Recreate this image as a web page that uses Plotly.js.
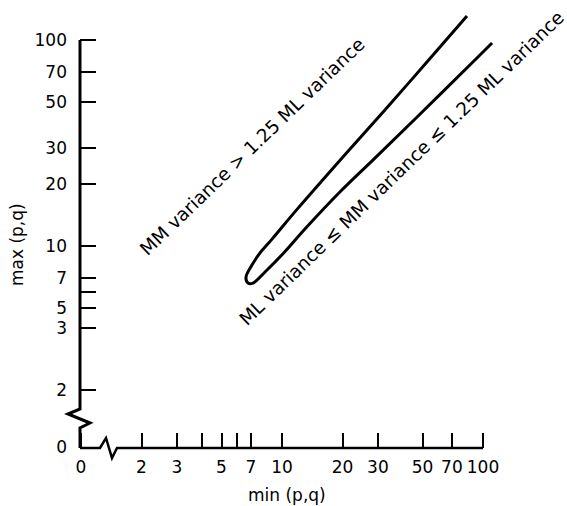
<!DOCTYPE html>
<html>
<head>
<meta charset="utf-8">
<script src="https://cdn.plot.ly/plotly-3.0.1.min.js"></script>
<style>html,body{margin:0;padding:0;background:#fff;}#chart{width:567px;height:506px;}</style>
</head>
<body>
<div id="chart"></div>
<script>
// Boundary curve: upper branch (top -> tip), then lower branch (tip -> top)
var upperMin = [83.2, 52.6, 32.5, 21.8, 11.9, 8.92, 7.77, 7.09, 6.62];
var upperMax = [130.8, 78.2, 45.7, 29.6, 15.1, 10.8, 9.25, 8.09, 7.07];
var tipMin = [6.77];
var tipMax = [6.61];
var lowerMin = [7.17, 8.23, 10.3, 13.0, 19.4, 28.4, 47.0, 93.3, 110.9];
var lowerMax = [6.61, 7.48, 9.35, 12.09, 18.29, 26.2, 42.3, 81.8, 96.7];

// Tick values and labels
var xTickVals = [1, 2, 3, 4, 5, 6, 7, 10, 20, 30, 50, 70, 100];
var xTickText = ['0', '2', '3', '', '5', '', '7', '10', '20', '30', '50', '70', '100'];
var yTickVals = [1.0575, 2, 4, 5, 6, 7, 10, 20, 30, 50, 70, 100];
var yTickText = ['0', '2', '3', '5', '', '7', '10', '20', '30', '50', '70', '100'];

var labelUpper = 'MM variance > 1.25 ML variance';
var labelLower = 'ML variance \u2264 MM variance \u2264 1.25 ML variance';
var xTitle = 'min (p,q)';
var yTitle = 'max (p,q)';

var FONT = 'DejaVu Sans, sans-serif';

var trace = {
  x: upperMin.concat(tipMin, lowerMin),
  y: upperMax.concat(tipMax, lowerMax),
  type: 'scatter',
  mode: 'lines',
  line: {color: '#000', width: 3, shape: 'spline', smoothing: 1},
  hoverinfo: 'skip',
  showlegend: false
};

// pixel -> paper helpers for decorations (plot area: x 80..560, y 6..448)
function px(v) { return (v - 80) / 480; }
function py(v) { return (448 - v) / 442; }
function path(pts) {
  return pts.map(function (p, i) { return (i ? 'L ' : 'M ') + px(p[0]) + ' ' + py(p[1]); }).join(' ');
}

var yAxisPath = path([[80, 448], [80, 428], [90, 423], [68, 414], [80, 409], [80, 40]]);
var xAxisPath = path([[80, 448], [100, 448], [106, 438], [112, 458], [117, 448], [483, 448]]);

var layout = {
  width: 567,
  height: 506,
  margin: {l: 80, r: 7, t: 6, b: 58},
  paper_bgcolor: '#fff',
  plot_bgcolor: '#fff',
  font: {family: FONT, color: '#000', size: 17},
  showlegend: false,
  xaxis: {
    type: 'log',
    range: [-0.005, 2.383],
    tickmode: 'array',
    tickvals: xTickVals,
    ticktext: xTickText,
    ticks: 'inside',
    ticklen: 15,
    tickwidth: 2,
    tickcolor: '#000',
    ticklabelstandoff: 7,
    tickfont: {family: FONT, size: 17, color: '#000'},
    showgrid: false,
    zeroline: false,
    showline: false,
    fixedrange: true
  },
  yaxis: {
    type: 'log',
    range: [0.01942, 2.165],
    tickmode: 'array',
    tickvals: yTickVals,
    ticktext: yTickText,
    ticks: 'inside',
    ticklen: 16,
    tickwidth: 2,
    tickcolor: '#000',
    ticklabelstandoff: 12,
    tickfont: {family: FONT, size: 17, color: '#000'},
    showgrid: false,
    zeroline: false,
    showline: false,
    fixedrange: true
  },
  shapes: [
    {type: 'path', xref: 'paper', yref: 'paper', path: yAxisPath, line: {color: '#000', width: 3}, layer: 'above'},
    {type: 'path', xref: 'paper', yref: 'paper', path: xAxisPath, line: {color: '#000', width: 2.5}, layer: 'above'}
  ],
  annotations: [
    {text: labelUpper, xref: 'paper', yref: 'paper', x: px(252), y: py(146), textangle: -44,
     showarrow: false, xanchor: 'center', yanchor: 'middle', font: {family: FONT, size: 18.5, color: '#000'}},
    {text: labelLower, xref: 'paper', yref: 'paper', x: px(401), y: py(168), textangle: -44,
     showarrow: false, xanchor: 'center', yanchor: 'middle', font: {family: FONT, size: 18.5, color: '#000'}},
    {text: xTitle, xref: 'paper', yref: 'paper', x: px(287), y: py(495),
     showarrow: false, xanchor: 'center', yanchor: 'middle', font: {family: FONT, size: 17, color: '#000'}},
    {text: yTitle, xref: 'paper', yref: 'paper', x: px(17), y: py(245), textangle: -90,
     showarrow: false, xanchor: 'center', yanchor: 'middle', font: {family: FONT, size: 17, color: '#000'}}
  ]
};

Plotly.newPlot('chart', [trace], layout, {displayModeBar: false, staticPlot: true});
</script>
</body>
</html>
